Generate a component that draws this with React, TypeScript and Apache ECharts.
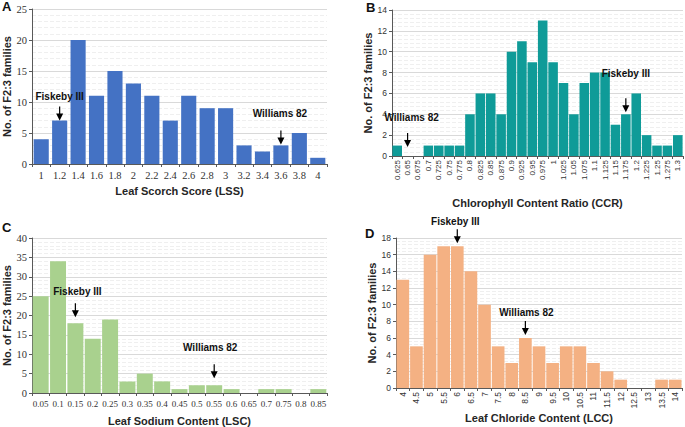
import React, { useEffect, useRef } from "react";
import * as echarts from "echarts";

// ---- Data ----
const lssCategories = ["1", "1.2", "1.4", "1.6", "1.8", "2", "2.2", "2.4", "2.6", "2.8", "3", "3.2", "3.4", "3.6", "3.8", "4"];
const lssCounts = [4, 7, 20, 11, 15, 13, 11, 7, 11, 9, 9, 3, 2, 3, 5, 1];

const ccrCategories = ["0.625", "0.65", "0.675", "0.7", "0.725", "0.75", "0.775", "0.8", "0.825", "0.85", "0.875", "0.9", "0.925", "0.95", "0.975", "1", "1.025", "1.05", "1.075", "1.1", "1.125", "1.15", "1.175", "1.2", "1.225", "1.25", "1.275", "1.3"];
const ccrCounts = [1, 0, 0, 1, 1, 1, 1, 4, 6, 6, 4, 10, 11, 9, 13, 9, 7, 4, 7, 8, 8, 3, 4, 6, 2, 1, 1, 2];

const lscCategories = ["0.05", "0.1", "0.15", "0.2", "0.25", "0.3", "0.35", "0.4", "0.45", "0.5", "0.55", "0.6", "0.65", "0.7", "0.75", "0.8", "0.85"];
const lscCounts = [25, 34, 18, 14, 19, 3, 5, 3, 1, 2, 2, 1, 0, 1, 1, 0, 1];

const lccCategories = ["4", "4.5", "5", "5.5", "6", "6.5", "7", "7.5", "8", "8.5", "9", "9.5", "10", "10.5", "11", "11.5", "12", "12.5", "13", "13.5", "14"];
const lccCounts = [13, 5, 16, 17, 17, 14, 10, 5, 3, 6, 5, 3, 5, 5, 3, 2, 1, 0, 0, 1, 1];

const panelLetters = ["A", "B", "C", "D"];
const xTitles = ["Leaf Scorch Score (LSS)", "Chlorophyll Content Ratio (CCR)", "Leaf Sodium Content (LSC)", "Leaf Chloride Content (LCC)"];
const yTitle = "No. of F2:3 families";
const yMax = [25, 14, 40, 18];
const yInterval = [5, 2, 5, 2];

const annotationPanels = [0, 0, 1, 1, 2, 2, 3, 3];
const annotationLabels = ["Fiskeby III", "Williams 82", "Williams 82", "Fiskeby III", "Fiskeby III", "Williams 82", "Fiskeby III", "Williams 82"];
const annotationCategories = ["1.2", "3.6", "0.65", "1.175", "0.15", "0.55", "6", "8.5"];

// ---- Styles / layout ----
const tipOffsets = [0, 1, 9, 2, 6, 7, 3, 3];
const textGaps = [10, 17, 16, 25, 12, 17, 8, 9];
const textDx = [0, -1, 4, 0, 2, -4, -2, 1];

const grids = [
  { left: 32, top: 9, width: 295, height: 155 },
  { left: 392, top: 10, width: 291, height: 146 },
  { left: 32, top: 238, width: 295, height: 155 },
  { left: 396, top: 238, width: 286, height: 150 },
];
const letterPos = [[2, 0], [366, 1], [2, 221], [365, 227]];
const barColors = ["#4472C4", "#0F9B98", "#A9D18E", "#F4B183"];
const barGaps = ["18%", "8%", "8%", "7%"];
const xNameGaps = [21, 41, 22, 18];
const yNameGaps = [19, 15, 19, 18];

const SANS = "'Liberation Sans', Arial, sans-serif";
const SERIF = "'Liberation Serif', 'Times New Roman', serif";

export default function App() {
  const ref = useRef<HTMLDivElement>(null);

  useEffect(() => {
    if (!ref.current) return;
    const chart = echarts.init(ref.current, undefined, { renderer: "svg" });
    const cats = [lssCategories, ccrCategories, lscCategories, lccCategories];
    const counts = [lssCounts, ccrCounts, lscCounts, lccCounts];
    const serifPanel = [true, false, true, false];
    const rotated = [false, true, false, true];

    const option: any = {
      animation: false,
      backgroundColor: "#ffffff",
      grid: grids.map((g) => ({ ...g, containLabel: false })),
      xAxis: cats.map((c, i) => ({
        type: "category",
        gridIndex: i,
        data: c,
        boundaryGap: true,
        axisLine: { show: true, lineStyle: { color: "#595959", width: 1 } },
        axisTick: { show: true, length: 3, alignWithLabel: false, lineStyle: { color: "#595959" } },
        axisLabel: {
          interval: 0,
          rotate: rotated[i] ? 90 : 0,
          color: "#333333",
          fontFamily: serifPanel[i] ? SERIF : SANS,
          fontSize: i === 0 ? 10.5 : i === 2 ? 9 : i === 1 ? 8 : 8.5,
          margin: rotated[i] ? 4 : 6,
        },
        name: xTitles[i],
        nameLocation: "middle",
        nameGap: xNameGaps[i],
        nameTextStyle: { fontFamily: SANS, fontWeight: "bold", fontSize: 11, color: "#262626" },
        splitLine: { show: false },
      })),
      yAxis: cats.map((_, i) => ({
        type: "value",
        gridIndex: i,
        min: 0,
        max: yMax[i],
        interval: yInterval[i],
        axisLine: { show: true, lineStyle: { color: "#595959", width: 1 } },
        axisTick: { show: true, length: 3, lineStyle: { color: "#595959" } },
        axisLabel: {
          color: "#333333",
          fontFamily: serifPanel[i] ? SERIF : SANS,
          fontSize: serifPanel[i] ? 10.5 : 8.5,
          margin: 5,
        },
        splitLine: { show: true, lineStyle: { color: "#d9d9d9", width: 1 } },
        minorTick: { show: false, splitNumber: 5 },
        minorSplitLine: { show: true, lineStyle: { color: "#efefef", width: 1, type: "dashed" } },
        name: yTitle,
        nameLocation: "middle",
        nameGap: yNameGaps[i],
        nameRotate: 90,
        nameTextStyle: { fontFamily: SANS, fontWeight: "bold", fontSize: 11, color: "#262626" },
      })),
      series: counts.map((d, i) => ({
        type: "bar",
        xAxisIndex: i,
        yAxisIndex: i,
        data: d,
        barCategoryGap: barGaps[i],
        itemStyle: { color: barColors[i] },
        silent: true,
      })),
    };
    chart.setOption(option);

    const graphics: any[] = [];
    panelLetters.forEach((l, i) => {
      graphics.push({
        type: "text",
        x: letterPos[i][0],
        y: letterPos[i][1],
        z: 100,
        style: { text: l, fontFamily: SANS, fontWeight: "bold", fontSize: 13, fill: "#111" },
      });
    });
    annotationLabels.forEach((label, k) => {
      const p = annotationPanels[k];
      const catIdx = cats[p].indexOf(annotationCategories[k]);
      const val = counts[p][catIdx];
      const pt = chart.convertToPixel({ gridIndex: p } as any, [catIdx, val]) as number[];
      const x = pt[0];
      const tip = pt[1] - tipOffsets[k];
      const top = tip - 14;
      graphics.push({
        type: "line",
        z: 100,
        shape: { x1: x, y1: top, x2: x, y2: tip - 5 },
        style: { stroke: "#000", lineWidth: 1.2 },
      });
      graphics.push({
        type: "polygon",
        z: 100,
        shape: { points: [[x - 3.5, tip - 7], [x + 3.5, tip - 7], [x, tip]] },
        style: { fill: "#000" },
      });
      graphics.push({
        type: "text",
        z: 100,
        x: x + textDx[k],
        y: top - textGaps[k],
        style: {
          text: label,
          fontFamily: SANS,
          fontWeight: "bold",
          fontSize: 10,
          fill: "#111",
          align: "center",
          verticalAlign: "middle",
        },
      });
    });
    chart.setOption({ graphic: graphics });

    return () => chart.dispose();
  }, []);

  return (
    <div
      ref={ref}
      style={{ position: "fixed", left: 0, top: 0, width: 685, height: 427, background: "#fff" }}
    />
  );
}
